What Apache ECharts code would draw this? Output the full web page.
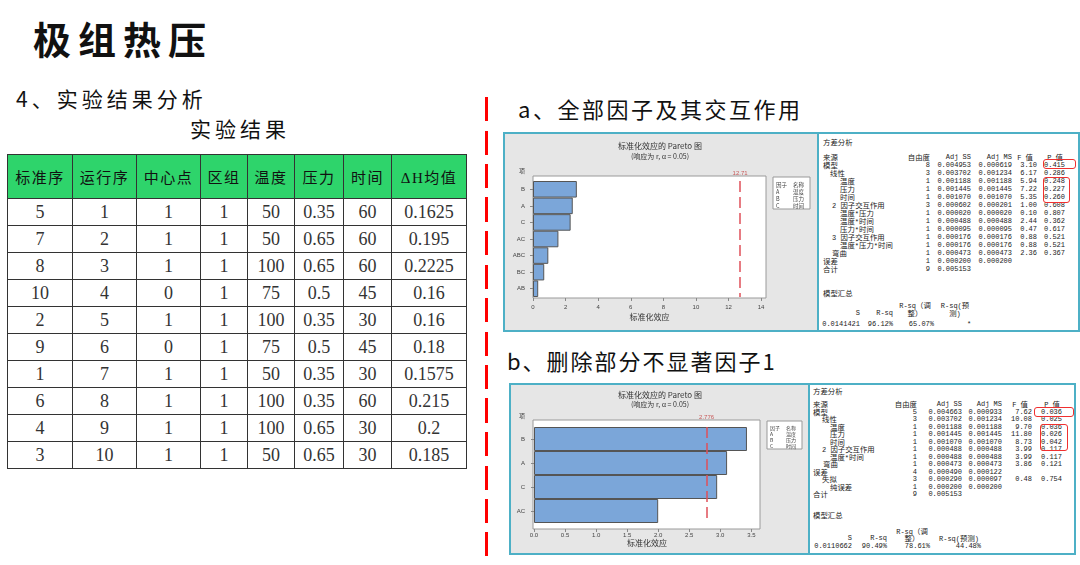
<!DOCTYPE html>
<html><head><meta charset="utf-8">
<script src="https://cdn.jsdelivr.net/npm/echarts@6/dist/echarts.min.js"></script>
<style>
html,body{margin:0;padding:0;}
body{width:1080px;height:565px;position:relative;overflow:hidden;background:#fff;font-family:"Noto Sans CJK SC",sans-serif;color:#111;}
.abs{position:absolute;white-space:nowrap;line-height:1;}
#tbl{position:absolute;left:7px;top:154px;border-collapse:collapse;table-layout:fixed;width:459px;}
#tbl td,#tbl th{border:1.5px solid #333;text-align:center;padding:0;}
#tbl th{background:#2ed46b;height:43px;font-weight:normal;font-size:15px;letter-spacing:1.5px;color:#111;}
#tbl td{height:26px;font-family:"Liberation Serif",serif;font-size:18px;color:#333;}
.panel{position:absolute;border:2px solid #4db0c6;box-sizing:border-box;background:#fff;}
.grey{position:absolute;left:0;top:0;bottom:0;background:#e6e6e6;border-right:2px solid #4db0c6;}
.ano{position:absolute;font-family:"Liberation Mono",monospace;font-size:7px;color:#222;white-space:nowrap;line-height:8px;height:8px;}
.ano .cj{font-family:"Noto Sans CJK SC";font-size:7.4px;}
.rbox{position:absolute;border:1.2px solid #f03030;border-radius:3px;box-sizing:border-box;}
#dash{position:absolute;left:485px;top:97px;width:3px;height:459px;background:repeating-linear-gradient(to bottom,#ff0000 0px,#ff0000 24px,transparent 24px,transparent 33.5px);}
#chart{position:absolute;left:0;top:0;width:1080px;height:565px;z-index:5;}
</style></head>
<body>
<div class="abs" style="left:33px;top:19px;font-size:38px;font-weight:bold;letter-spacing:7px;">极组热压</div>
<div class="abs" style="left:16px;top:88px;font-size:21px;letter-spacing:4px;">4、实验结果分析</div>
<div class="abs" style="left:190px;top:118px;font-size:21px;letter-spacing:4px;">实验结果</div>
<table id="tbl"></table>
<div id="dash"></div>
<div class="abs" style="left:518px;top:97px;font-size:22px;letter-spacing:2.5px;">a、全部因子及其交互作用</div>
<div class="abs" style="left:507px;top:349px;font-size:22px;letter-spacing:2px;">b、删除部分不显著因子1</div>
<div class="panel" style="left:503px;top:132px;width:577px;height:200px;"><div class="grey" style="width:312px;"></div></div>
<div class="panel" style="left:509px;top:383px;width:567px;height:172px;"><div class="grey" style="width:297px;"></div></div>
<div id="anoA"></div>
<div id="anoB"></div>
<div id="chart"></div>
<script>
// ---------- experiment table data ----------
const tableHeader = ['标准序','运行序','中心点','区组','温度','压力','时间','ΔH均值'];
const stdOrder = [5,7,8,10,2,9,1,6,4,3];
const runOrder = [1,2,3,4,5,6,7,8,9,10];
const centerPt = [1,1,1,0,1,0,1,1,1,1];
const blockNo = [1,1,1,1,1,1,1,1,1,1];
const temperature = [50,50,100,75,100,75,50,100,100,50];
const pressure = ['0.35','0.65','0.65','0.5','0.35','0.5','0.35','0.35','0.65','0.65'];
const timeVal = [60,60,60,45,30,45,30,60,30,30];
const deltaH = ['0.1625','0.195','0.2225','0.16','0.16','0.18','0.1575','0.215','0.2','0.185'];

// ---------- Pareto data ----------
const paretoCatsA = ['B','A','C','AC','ABC','BC','AB'];
const paretoEffA = [2.69,2.44,2.31,1.56,0.94,0.69,0.32];
const critA = 12.71;
const paretoCatsB = ['B','A','C','AC'];
const paretoEffB = [3.43,3.11,2.95,2.00];
const critB = 2.776;
const factorLegend = [['因子','名称'],['A','温度'],['B','压力'],['C','时间']];

// ---------- ANOVA data ----------
const anovaHeader = ['来源','自由度','Adj SS','Adj MS','F 值','P 值'];
const anovaASrc = ['模型','线性','温度','压力','时间','2 因子交互作用','温度*压力','温度*时间','压力*时间','3 因子交互作用','温度*压力*时间','弯曲','误差','合计'];
const anovaALvl = [0,1,2,2,2,3,2,2,2,3,2,3,0,0];
const anovaADF = ['8','3','1','1','1','3','1','1','1','1','1','1','1','9'];
const anovaASS = ['0.004953','0.003702','0.001188','0.001445','0.001070','0.000602','0.000020','0.000488','0.000095','0.000176','0.000176','0.000473','0.000200','0.005153'];
const anovaAMS = ['0.000619','0.001234','0.001188','0.001445','0.001070','0.000201','0.000020','0.000488','0.000095','0.000176','0.000176','0.000473','0.000200',''];
const anovaAF = ['3.10','6.17','5.94','7.22','5.35','1.00','0.10','2.44','0.47','0.88','0.88','2.36','',''];
const anovaAP = ['0.415','0.286','0.248','0.227','0.260','0.608','0.807','0.362','0.617','0.521','0.521','0.367','',''];
const summaryA = ['0.0141421','96.12%','65.07%','*'];

const anovaBSrc = ['模型','线性','温度','压力','时间','2 因子交互作用','温度*时间','弯曲','误差','失拟','纯误差','合计'];
const anovaBLvl = [0,1,2,2,2,1,2,3,0,1,2,0];
const anovaBDF = ['5','3','1','1','1','1','1','1','4','3','1','9'];
const anovaBSS = ['0.004663','0.003702','0.001188','0.001445','0.001070','0.000488','0.000488','0.000473','0.000490','0.000290','0.000200','0.005153'];
const anovaBMS = ['0.000933','0.001234','0.001188','0.001445','0.001070','0.000488','0.000488','0.000473','0.000122','0.000097','0.000200',''];
const anovaBF = ['7.62','10.08','9.70','11.80','8.73','3.99','3.99','3.86','','0.48','',''];
const anovaBP = ['0.036','0.025','0.036','0.026','0.042','0.117','0.117','0.121','','0.754','',''];
const summaryB = ['0.0110662','90.49%','78.61%','44.48%'];

// ---------- build table ----------
(function(){
  const t = document.getElementById('tbl');
  const widths = [65,64,64,47,47,49,48,75];
  let h = '<colgroup>' + widths.map(w=>'<col style="width:'+w+'px">').join('') + '</colgroup>';
  h += '<tr>' + tableHeader.map(s=>'<th>'+s.replace('ΔH','<span style="font-family:Liberation Serif;">ΔH</span>')+'</th>').join('') + '</tr>';
  for (let i=0;i<stdOrder.length;i++){
    const row=[stdOrder[i],runOrder[i],centerPt[i],blockNo[i],temperature[i],pressure[i],timeVal[i],deltaH[i]];
    h += '<tr>' + row.map(v=>'<td>'+v+'</td>').join('') + '</tr>';
  }
  t.innerHTML = h;
})();

// ---------- build ANOVA text ----------
function txt(parent, s, x, y, align, cls){
  const d=document.createElement('div');
  d.className='ano';
  d.style.top=(y-4)+'px';
  if(align==='right'){d.style.right=(1080-x)+'px';d.style.textAlign='right';}
  else if(align==='center'){d.style.left=(x-40)+'px';d.style.width='80px';d.style.textAlign='center';}
  else d.style.left=x+'px';
  d.innerHTML = s.replace(/([\u4e00-\u9fff（）]+)/g,'<span class="cj">$1</span>');
  parent.appendChild(d);
}
function buildAnova(id, cfg, src, lvl, df, ss, ms, f, p, summ){
  const el=document.getElementById(id);
  txt(el,'方差分析',cfg.x0+cfg.ind[0],cfg.titleY,'left');
  const hy=cfg.headY;
  txt(el,anovaHeader[0],cfg.x0+cfg.ind[0],hy,'left');
  txt(el,anovaHeader[1],cfg.cols[0],hy,'right');
  txt(el,anovaHeader[2],cfg.cols[1],hy,'right');
  txt(el,anovaHeader[3],cfg.cols[2],hy,'right');
  txt(el,anovaHeader[4],cfg.cols[3]-4,hy,'right');
  txt(el,anovaHeader[5],cfg.cols[4]-2,hy,'right');
  for(let i=0;i<src.length;i++){
    const y=hy+(i+1)*cfg.lh;
    txt(el,src[i],cfg.x0+cfg.ind[lvl[i]],y,'left');
    txt(el,df[i],cfg.cols[0],y,'right');
    txt(el,ss[i],cfg.cols[1],y,'right');
    txt(el,ms[i],cfg.cols[2],y,'right');
    txt(el,f[i],cfg.cols[3],y,'right');
    txt(el,p[i],cfg.cols[4],y,'right');
  }
  const s=cfg.sum;
  txt(el,'模型汇总',cfg.x0+cfg.ind[0],s.title,'left');
  txt(el,'R-sq（调',s.adjX,s.l1,'center');
  txt(el,s.predHead,s.predX,s.predHead.indexOf('测')>0&&s.predHead.length>7?s.l2:s.l1,'center');
  if(s.predHead2) txt(el,s.predHead2,s.predX,s.l2,'center');
  txt(el,'S',s.c[0],s.l2,'right');
  txt(el,'R-sq',s.c[1],s.l2,'right');
  txt(el,'整）',s.adjX,s.l2,'center');
  txt(el,summ[0],s.c[0],s.v,'right');
  txt(el,summ[1],s.c[1],s.v,'right');
  txt(el,summ[2],s.c[2],s.v,'right');
  if(s.c[3]) txt(el,summ[3],s.c[3],s.v,'right'); else txt(el,summ[3],s.starX,s.v,'center');
}
buildAnova('anoA',{x0:817,ind:[6,13,23,15],titleY:142,headY:157,lh:8.02,cols:[930,971,1012,1037,1065],
  sum:{title:293,l1:305,l2:313,v:324,adjX:915,predX:955,predHead:'R-sq(预',predHead2:'测)',c:[860,893,934,null],starX:969}},
  anovaASrc,anovaALvl,anovaADF,anovaASS,anovaAMS,anovaAF,anovaAP,summaryA);
buildAnova('anoB',{x0:808,ind:[5,14,22,15],titleY:391,headY:404,lh:7.5,cols:[917,962,1002,1032,1062],
  sum:{title:515,l1:531,l2:538,v:546,adjX:912,predX:959,predHead:'R-sq(预测)',predHead2:null,c:[852,887,930,981]}},
  anovaBSrc,anovaBLvl,anovaBDF,anovaBSS,anovaBMS,anovaBF,anovaBP,summaryB);

// red highlight boxes
[[1043,159,33,10],[1043,177,27,26],[1034,407,40,10],[1040,424,28,27]].forEach(b=>{
  const d=document.createElement('div');d.className='rbox';
  d.style.left=b[0]+'px';d.style.top=b[1]+'px';d.style.width=b[2]+'px';d.style.height=b[3]+'px';
  document.body.appendChild(d);
});

// ---------- ECharts Pareto charts ----------
const chart = echarts.init(document.getElementById('chart'));
const CJK = '"Noto Sans CJK SC", sans-serif';
function legendGroup(x,y,w,h,rows,rh,fs,c2){
  const children=[{type:'rect',shape:{x:0,y:0,width:w,height:h},style:{fill:'#fff',stroke:'#999',lineWidth:1}}];
  rows.forEach((r,i)=>{
    children.push({type:'text',style:{text:r[0],x:3,y:4+rh*(i+0.5),font:fs+'px '+CJK,fill:'#444',textVerticalAlign:'middle'}});
    children.push({type:'text',style:{text:r[1],x:c2,y:4+rh*(i+0.5),font:fs+'px '+CJK,fill:'#444',textVerticalAlign:'middle'}});
  });
  return {type:'group',x:x,y:y,children:children};
}
function tText(t,x,y,fs,color){
  return {type:'text',style:{text:t,x:x,y:y,font:fs+'px '+CJK,fill:color||'#333',textAlign:'center',textVerticalAlign:'middle'}};
}
const xAxisBase = {
  type:'value', min:0, axisLine:{show:false},
  axisTick:{show:true,length:3,lineStyle:{color:'#888'}},
  splitLine:{show:false}, nameLocation:'middle',
  nameTextStyle:{fontSize:8,color:'#333',fontFamily:'Noto Sans CJK SC'}
};
const yAxisBase = {
  type:'category', inverse:true, axisLine:{show:false},
  axisTick:{show:true,length:3,alignWithLabel:true,lineStyle:{color:'#888'}},
  axisLabel:{fontSize:6,color:'#444',margin:8}, splitLine:{show:false}
};
function barSeries(idx,data,crit,dist){
  return {
    type:'bar', xAxisIndex:idx, yAxisIndex:idx, data:data, barCategoryGap:'0%',
    itemStyle:{color:'#7ba6d9',borderColor:'#555',borderWidth:1}, silent:true,
    markLine:{symbol:'none',silent:true,animation:false,
      lineStyle:{color:'#e0505a',type:[11,5],width:1.5},
      label:{show:true,position:'start',formatter:String(crit),fontSize:6,color:'#c85a5a',distance:dist},
      data:[{xAxis:crit}]}
  };
}
chart.setOption({
  animation:false,
  grid:[
    {left:533,top:181,width:233,height:116},
    {left:534,top:427,width:226,height:96}
  ],
  xAxis:[
    Object.assign({},xAxisBase,{gridIndex:0,max:14.3,interval:2,offset:1,name:'标准化效应',nameGap:15,
      axisLabel:{fontSize:6,color:'#444',margin:6,showMaxLabel:false}}),
    Object.assign({},xAxisBase,{gridIndex:1,max:3.64,interval:0.5,offset:6,name:'标准化效应',nameGap:10,
      axisLabel:{fontSize:6,color:'#444',margin:3,showMaxLabel:false,formatter:v=>v.toFixed(1)}})
  ],
  yAxis:[
    Object.assign({},yAxisBase,{gridIndex:0,data:paretoCatsA}),
    Object.assign({},yAxisBase,{gridIndex:1,data:paretoCatsB,axisLabel:{fontSize:6,color:'#444',margin:9}})
  ],
  series:[barSeries(0,paretoEffA,critA,5),barSeries(1,paretoEffB,critB,7)],
  graphic:[
    {type:'rect',z:-10,shape:{x:533,y:176,width:233,height:122},style:{fill:'#fff',stroke:'#9a9a9a',lineWidth:1}},
    {type:'rect',z:-10,shape:{x:533,y:420,width:227,height:109},style:{fill:'#fff',stroke:'#9a9a9a',lineWidth:1}},
    tText('标准化效应的 Pareto 图',660,146,8),
    tText('(响应为 r, α = 0.05)',660,156,7),
    tText('项',522,171,6,'#444'),
    tText('标准化效应的 Pareto 图',660,395,8),
    tText('(响应为 r, α = 0.05)',660,404,7),
    tText('项',522,416,6,'#444'),
    legendGroup(773,177,37,32,factorLegend,7,5.5,20),
    legendGroup(767,421,35,28,factorLegend,6,5,19)
  ]
});
</script>
</body></html>
